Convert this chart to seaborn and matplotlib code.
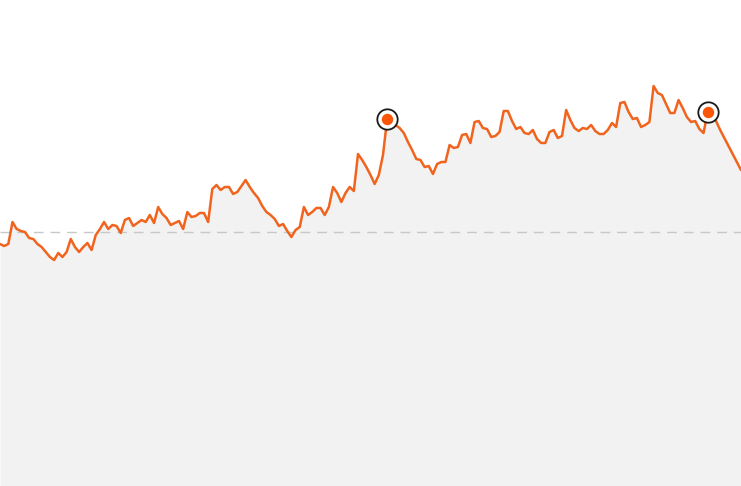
import pandas as pd
import numpy as np
import matplotlib.pyplot as plt
import seaborn as sns

# --- Data (index level, baseline = 100) ---
values = [
    98.8, 98.6, 98.8, 101.0, 100.3, 100.1, 100.0, 99.4, 99.3, 98.8, 98.5,
    98.0, 97.5, 97.2, 97.9, 97.5, 98.0, 99.3, 98.5, 98.0, 98.5,
    98.9, 98.2, 99.7, 100.3, 101.0, 100.3, 100.7, 100.6, 99.9, 101.2,
    101.4, 100.6, 100.9, 101.2, 101.0, 101.7, 100.9, 102.5, 101.8, 101.4,
    100.7, 100.9, 101.1, 100.3, 102.0, 101.5, 101.6, 101.9, 101.9, 101.0,
    104.3, 104.7, 104.2, 104.5, 104.5, 103.8, 104.0, 104.6, 105.2, 104.5,
    103.9, 103.4, 102.6, 102.0, 101.7, 101.3, 100.6, 100.8, 100.1, 99.5,
    100.2, 100.5, 102.5, 101.7, 102.0, 102.4, 102.4, 101.7, 102.5, 104.5,
    103.9, 103.0, 103.9, 104.5, 104.1, 107.8, 107.2, 106.5, 105.7, 104.8,
    105.7, 107.7, 111.3, 111.0, 110.7, 110.4, 109.9, 109.0, 108.2, 107.3,
    107.2, 106.5, 106.6, 105.8, 106.8, 107.0, 107.0, 108.7, 108.4, 108.5,
    109.7, 109.8, 108.9, 111.0, 111.1, 110.4, 110.3, 109.5, 109.6, 110.0,
    112.1, 112.1, 111.1, 110.3, 110.5, 109.9, 109.8, 110.2, 109.3, 108.9,
    108.9, 110.0, 110.2, 109.4, 109.6, 112.2, 111.2, 110.4, 110.1, 110.4,
    110.3, 110.7, 110.1, 109.8, 109.8, 110.2, 110.9, 110.5, 112.9, 113.0,
    112.0, 111.3, 111.4, 110.5, 110.7, 111.0, 114.6, 113.9, 113.7, 112.8,
    111.9, 111.9, 113.2, 112.4, 111.5, 111.0, 111.1, 110.3, 109.9, 112.0,
    111.9, 111.1, 110.2, 109.4, 108.6, 107.8, 107.0, 106.2,
]
baseline = 100.0
highlight_idx = [93, 170]

df = pd.DataFrame({"t": np.arange(len(values)), "value": values})
hl = df.iloc[highlight_idx]

LINE = "#f0641e"
DOT = "#fa560a"
FILL = "#f2f2f2"

sns.set_style("white")
fig = plt.figure(figsize=(7.41, 4.86), dpi=100)
ax = fig.add_axes([0, 0, 1, 1])

ymin, ymax = 74.6, 123.2
ax.fill_between(df["t"], df["value"], ymin, color=FILL, linewidth=0, zorder=1)
ax.axhline(baseline, color="#c8c8c8", linewidth=1.0, dashes=(7, 5), zorder=2)
sns.lineplot(data=df, x="t", y="value", ax=ax, color=LINE, linewidth=1.8, zorder=3)

# highlighted points: white disc with black ring, orange dot inside
ax.scatter(hl["t"], hl["value"], s=215, facecolor="white", edgecolor="#1a1a1a",
           linewidth=1.3, zorder=4)
ax.scatter(hl["t"], hl["value"], s=68, color=DOT, linewidth=0, zorder=5)

ax.set_xlim(0, len(values) - 1)
ax.set_ylim(ymin, ymax)
ax.axis("off")

fig.savefig("out.png", dpi=100)
